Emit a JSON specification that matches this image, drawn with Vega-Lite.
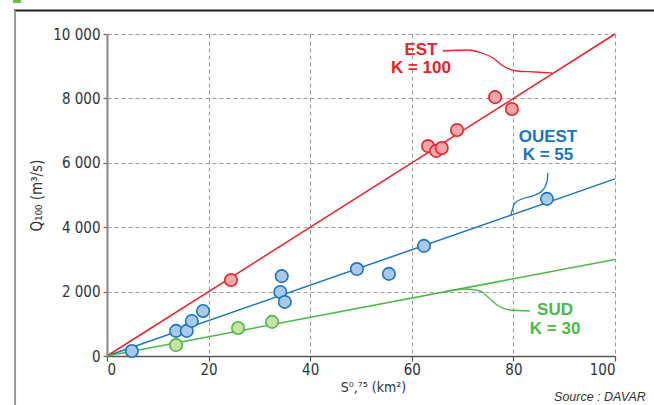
{
  "$schema": "https://vega.github.io/schema/vega-lite/v6.json",
  "width": 508,
  "height": 322,
  "autosize": {"type": "none"},
  "padding": {"left": 107, "top": 34, "right": 39, "bottom": 49},
  "background": "white",
  "config": {"view": {"stroke": null}, "font": "Liberation Sans"},
  "datasets": {
    "lines": [
      {"s": "EST", "x": 0, "y": 0}, {"s": "EST", "x": 100, "y": 10000},
      {"s": "OUEST", "x": 0, "y": 0}, {"s": "OUEST", "x": 100, "y": 5500},
      {"s": "SUD", "x": 0, "y": 0}, {"s": "SUD", "x": 100, "y": 3000}
    ],
    "points": [
      {"s": "EST", "x": 24.4, "y": 2360},
      {"s": "EST", "x": 63.2, "y": 6520},
      {"s": "EST", "x": 64.8, "y": 6370},
      {"s": "EST", "x": 65.9, "y": 6460},
      {"s": "EST", "x": 68.9, "y": 7020},
      {"s": "EST", "x": 76.4, "y": 8040},
      {"s": "EST", "x": 79.7, "y": 7670},
      {"s": "OUEST", "x": 4.9, "y": 155},
      {"s": "OUEST", "x": 13.6, "y": 780},
      {"s": "OUEST", "x": 15.7, "y": 780},
      {"s": "OUEST", "x": 16.7, "y": 1090},
      {"s": "OUEST", "x": 18.9, "y": 1400},
      {"s": "OUEST", "x": 34.4, "y": 2480},
      {"s": "OUEST", "x": 34.1, "y": 1990},
      {"s": "OUEST", "x": 35.0, "y": 1680},
      {"s": "OUEST", "x": 49.2, "y": 2700},
      {"s": "OUEST", "x": 55.5, "y": 2550},
      {"s": "OUEST", "x": 62.4, "y": 3420},
      {"s": "OUEST", "x": 86.6, "y": 4880},
      {"s": "SUD", "x": 13.6, "y": 340},
      {"s": "SUD", "x": 25.8, "y": 870},
      {"s": "SUD", "x": 32.5, "y": 1060}
    ],
    "connectors": [
      {"s": "EST", "o": 1, "x": 66.1, "y": 9472},
      {"s": "EST", "o": 2, "x": 71.1, "y": 9503},
      {"s": "EST", "o": 3, "x": 73.8, "y": 9410},
      {"s": "EST", "o": 4, "x": 76.0, "y": 9255},
      {"s": "EST", "o": 5, "x": 78.0, "y": 9006},
      {"s": "EST", "o": 6, "x": 80.7, "y": 8851},
      {"s": "EST", "o": 7, "x": 84.3, "y": 8820},
      {"s": "EST", "o": 8, "x": 87.6, "y": 8789},
      {"s": "OUEST", "o": 1, "x": 79.5, "y": 4373},
      {"s": "OUEST", "o": 2, "x": 80.3, "y": 4752},
      {"s": "OUEST", "o": 3, "x": 81.7, "y": 4876},
      {"s": "OUEST", "o": 4, "x": 84.3, "y": 5000},
      {"s": "OUEST", "o": 5, "x": 85.8, "y": 5155},
      {"s": "OUEST", "o": 6, "x": 86.6, "y": 5404},
      {"s": "OUEST", "o": 7, "x": 86.8, "y": 5683},
      {"s": "SUD", "o": 1, "x": 66.5, "y": 1995},
      {"s": "SUD", "o": 2, "x": 70.5, "y": 2081},
      {"s": "SUD", "o": 3, "x": 73.4, "y": 2019},
      {"s": "SUD", "o": 4, "x": 75.0, "y": 1832},
      {"s": "SUD", "o": 5, "x": 76.8, "y": 1584},
      {"s": "SUD", "o": 6, "x": 79.3, "y": 1429},
      {"s": "SUD", "o": 7, "x": 83.3, "y": 1398}
    ],
    "labels": [
      {"s": "EST", "t": "EST", "x": 61.8, "y": 9503},
      {"s": "EST", "t": "K = 100", "x": 61.8, "y": 8944},
      {"s": "OUEST", "t": "OUEST", "x": 86.8, "y": 6801},
      {"s": "OUEST", "t": "K = 55", "x": 86.8, "y": 6242},
      {"s": "SUD", "t": "SUD", "x": 88.2, "y": 1429},
      {"s": "SUD", "t": "K = 30", "x": 88.2, "y": 839}
    ],
    "frameTop": [{"x": -18.3, "x2": 107.7, "y": 10730}],
    "frameLeft": [{"x": -18.1, "y": 10730, "y2": -1522}],
    "greenMark": [{"x": -18.5, "x2": -16.9, "y": 11009}],
    "source": [{"t": "Source : DAVAR", "x": 88.0, "y": -1273}]
  },
  "encoding": {
    "x": {
      "field": "x", "type": "quantitative",
      "scale": {"domain": [0, 100], "nice": false, "zero": false},
      "axis": {
        "values": [0, 20, 40, 60, 80, 100],
        "title": "S⁰,⁷⁵ (km²)",
        "titleX": 266,
        "grid": true, "gridColor": "#9a9a9a", "gridDash": [4, 3], "gridWidth": 1,
        "domainColor": "#555555", "domainWidth": 1.5,
        "tickColor": "#555555", "tickSize": 5, "tickWidth": 1.2,
        "labelFont": "Liberation Sans Narrow, DejaVu Sans Condensed, sans-serif",
        "labelFontSize": 15, "labelColor": "#333333", "labelPadding": 1,
        "titleFont": "Liberation Sans Narrow, DejaVu Sans Condensed, sans-serif",
        "titleFontSize": 14, "titleFontWeight": "normal", "titleColor": "#333333",
        "titlePadding": 3
      }
    },
    "y": {
      "field": "y", "type": "quantitative",
      "scale": {"domain": [0, 10000], "nice": false, "zero": false},
      "axis": {
        "values": [0, 2000, 4000, 6000, 8000, 10000],
        "labelExpr": "replace(format(datum.value, ','), ',', ' ')",
        "title": "Q₁₀₀ (m³/s)",
        "grid": true, "gridColor": "#9a9a9a", "gridDash": [4, 3], "gridWidth": 1,
        "domainColor": "#888888", "domainWidth": 2,
        "tickColor": "#666666", "tickSize": 4, "tickWidth": 1.2,
        "labelFont": "Liberation Sans Narrow, DejaVu Sans Condensed, sans-serif",
        "labelFontSize": 15, "labelColor": "#333333", "labelPadding": 3,
        "titleFont": "Liberation Sans Narrow, DejaVu Sans Condensed, sans-serif",
        "titleFontSize": 15, "titleFontWeight": "normal", "titleColor": "#333333",
        "titlePadding": 8
      }
    }
  },
  "layer": [
    {
      "data": {"name": "frameTop"},
      "mark": {"type": "rule", "color": "#222222", "strokeWidth": 2, "clip": false},
      "encoding": {"x2": {"field": "x2"}}
    },
    {
      "data": {"name": "frameLeft"},
      "mark": {"type": "rule", "color": "#999999", "strokeWidth": 2, "clip": false},
      "encoding": {"y2": {"field": "y2"}}
    },
    {
      "data": {"name": "greenMark"},
      "mark": {"type": "rule", "color": "#6dbe45", "strokeWidth": 3, "clip": false},
      "encoding": {"x2": {"field": "x2"}}
    },
    {
      "data": {"name": "connectors"},
      "mark": {"type": "line", "interpolate": "monotone", "strokeWidth": 1.3},
      "encoding": {
        "color": {"field": "s", "type": "nominal", "scale": {"domain": ["EST", "OUEST", "SUD"], "range": ["#e8232a", "#1a75bc", "#4db848"]}, "legend": null},
        "order": {"field": "o"}
      }
    },
    {
      "data": {"name": "lines"},
      "mark": {"type": "line", "strokeWidth": 1.5},
      "encoding": {
        "color": {"field": "s", "type": "nominal", "legend": null}
      }
    },
    {
      "data": {"name": "points"},
      "mark": {"type": "point", "shape": "circle", "filled": false, "size": 155, "strokeWidth": 1.6, "opacity": 1, "fillOpacity": 1},
      "encoding": {
        "stroke": {"field": "s", "type": "nominal", "scale": {"domain": ["EST", "OUEST", "SUD"], "range": ["#e8232a", "#1a75bc", "#4db848"]}, "legend": null},
        "fill": {"field": "s", "type": "nominal", "scale": {"domain": ["EST", "OUEST", "SUD"], "range": ["#f5a6a6", "#a9c9ec", "#c9e3a6"]}, "legend": null}
      }
    },
    {
      "data": {"name": "labels"},
      "mark": {"type": "text", "font": "Liberation Sans", "fontWeight": "bold", "fontSize": 17, "align": "center", "baseline": "middle"},
      "encoding": {
        "text": {"field": "t"},
        "color": {"field": "s", "type": "nominal", "legend": null}
      }
    },
    {
      "data": {"name": "source"},
      "mark": {"type": "text", "font": "Liberation Sans", "fontStyle": "italic", "fontSize": 12.5, "align": "left", "baseline": "middle", "color": "#333333", "clip": false},
      "encoding": {"text": {"field": "t"}}
    }
  ]
}
